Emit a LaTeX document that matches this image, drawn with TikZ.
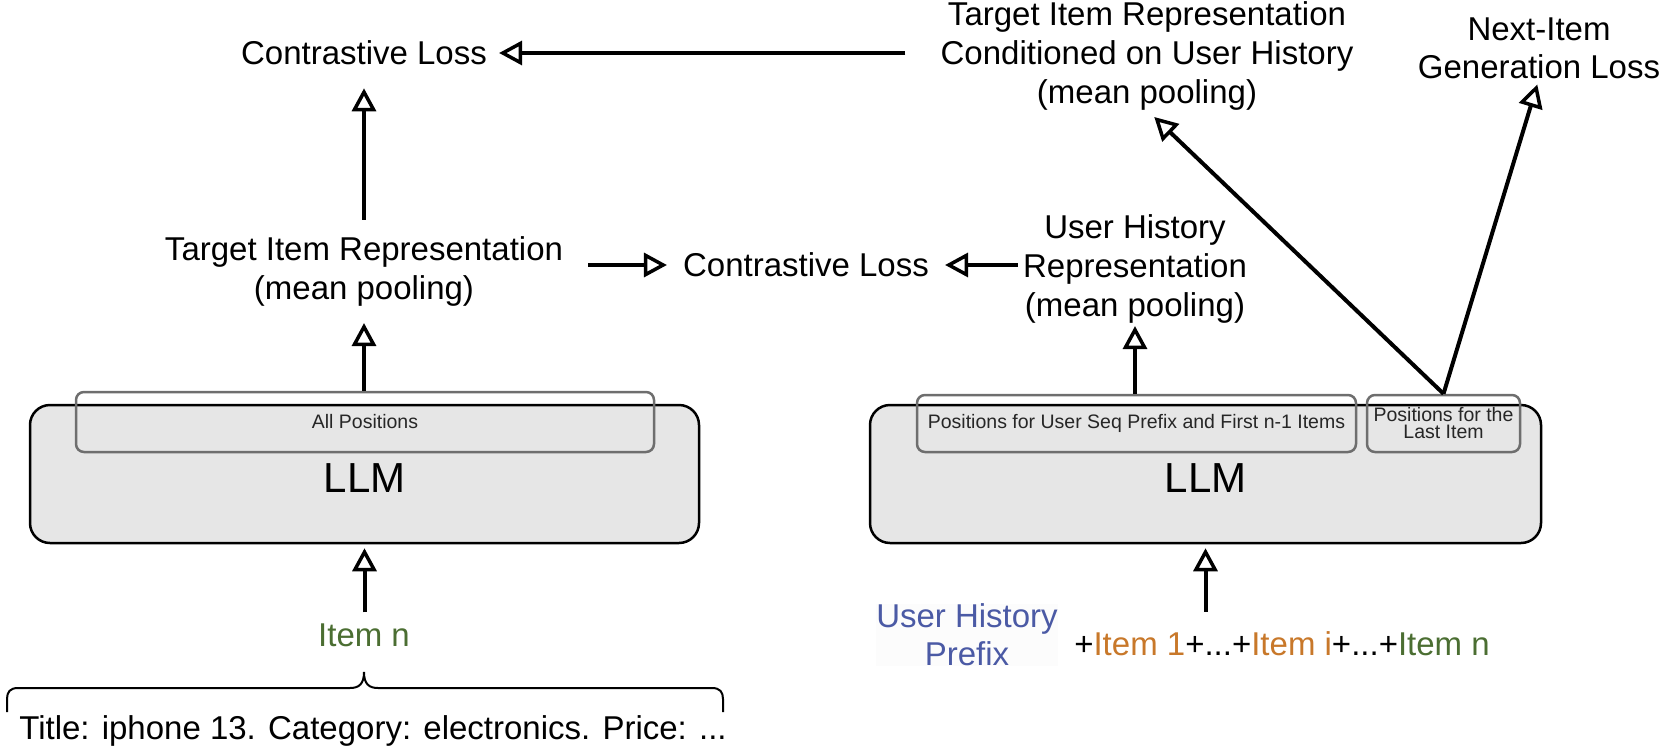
\documentclass[tikz,border=0pt]{standalone}
\usepackage{fontspec}
\setmainfont{Liberation Sans}
\usetikzlibrary{arrows.meta,calc}
\definecolor{uhblue}{HTML}{4B5AA5}
\definecolor{itorange}{HTML}{C8782A}
\definecolor{itgreen}{HTML}{4B6E32}
\definecolor{llmfill}{HTML}{E6E6E6}
\definecolor{innergray}{HTML}{6E6E6E}
\tikzset{
  lbl/.style={inner sep=0pt, align=center, font=\fontsize{33}{39}\selectfont},
  llmbox/.style={draw=black, line width=2.5pt, fill=llmfill, rounded corners=20pt},
  posbox/.style={draw=innergray, line width=2.5pt, rounded corners=8pt, align=center,
                 text=black!85, font=\fontsize{19.5}{17}\selectfont, inner sep=0pt},
  llmtxt/.style={inner sep=0pt, font=\fontsize{42}{48}\selectfont},
  arr/.style={line width=4pt, -{Triangle[open,length=23pt,width=24pt,line width=3.5pt]}},
  brc/.style={line width=2pt}
}
\begin{document}
\begin{tikzpicture}[x=1pt,y=-1pt]
\useasboundingbox (0,0) rectangle (1661,755);

% ---------- left column ----------
\node[llmbox, minimum width=669pt, minimum height=138pt] (llm1) at (364.5,474) {};
\node[llmtxt] (llmt1) at (364.5,478) {LLM};
\node[posbox, minimum width=578pt, minimum height=60pt] (ib1L) at (365,422) {All Positions};

\node[lbl] (cl1) at (364,53) {Contrastive Loss};
\node[lbl] (tir) at (364,271) {Target Item Representation\\(mean pooling)};
\node[lbl, text=itgreen] (itemn) at (364,635) {Item n};
\node[lbl] (title) at (373,731) {Title: iphone 13. Category: electronics. Price: ...};

\draw[brc] (7,712) -- (7,699) .. controls (7,692) and (10,688) .. (18,688)
  -- (350,688) .. controls (359,688) and (364,684) .. (364,672)
  .. controls (364,684) and (369,688) .. (378,688)
  -- (712,688) .. controls (720,688) and (723,692) .. (723,699) -- (723,712);

% ---------- middle ----------
\node[lbl] (cl2) at (806,265) {Contrastive Loss};

% ---------- right column ----------
\node[llmbox, minimum width=671pt, minimum height=138pt] (llm2) at (1205.5,474) {};
\node[llmtxt] (llmt2) at (1205.5,478) {LLM};
\node[posbox, minimum width=439pt, minimum height=57pt] (ib1R) at (1136.5,423.5)
  {Positions for User Seq Prefix and First n-1 Items};
\node[posbox, minimum width=153pt, minimum height=57pt] (ib2) at (1443.5,423.5)
  {Positions for the\\Last Item};

\node[lbl] (uhr) at (1135,268.5) {User History\\Representation\\(mean pooling)};
\node[lbl] (cond) at (1147,55.5) {Target Item Representation\\Conditioned on User History\\(mean pooling)};
\node[lbl, font=\fontsize{33}{38}\selectfont] (nil) at (1539,48) {Next-Item\\Generation Loss};

\node[lbl, text=uhblue, fill=black!1, font=\fontsize{33}{38}\selectfont] (uhp) at (967,635) {User History\\Prefix};
\node[lbl] (seq) at (1282,644) {+\textcolor{itorange}{Item 1}+...+\textcolor{itorange}{Item i}+...+\textcolor{itgreen}{Item n}};

% ---------- connectors ----------
\draw[arr, shorten <=35pt, shorten >=12pt] (cond.west |- cl1.east) -- (cl1.east);
\draw[arr, shorten <=16pt, shorten >=23pt] (tir.north) -- (cl1.south);
\draw[arr, shorten >=17pt] (ib1L.north -| tir.south) -- (tir.south);
\draw[arr, shorten <=25pt, shorten >=16pt] (tir.east |- cl2.west) -- (cl2.west);
\draw[arr, shorten <=5pt, shorten >=16pt] (uhr.west |- cl2.east) -- (cl2.east);
\draw[arr, shorten >=3pt] (ib1R.north -| uhr.south) -- (uhr.south);
\draw[arr, shorten >=10pt] (ib2.north) -- (cond.south);
\draw[arr, shorten >=6pt] (ib2.north) -- (nil.south);
\draw[arr, shorten <=11pt, shorten >=4pt] (itemn.north -| llm1.south) -- (llm1.south);
\draw[arr, shorten <=20pt, shorten >=4pt] (llm2.south |- seq.north) -- (llm2.south);
\end{tikzpicture}
\end{document}
